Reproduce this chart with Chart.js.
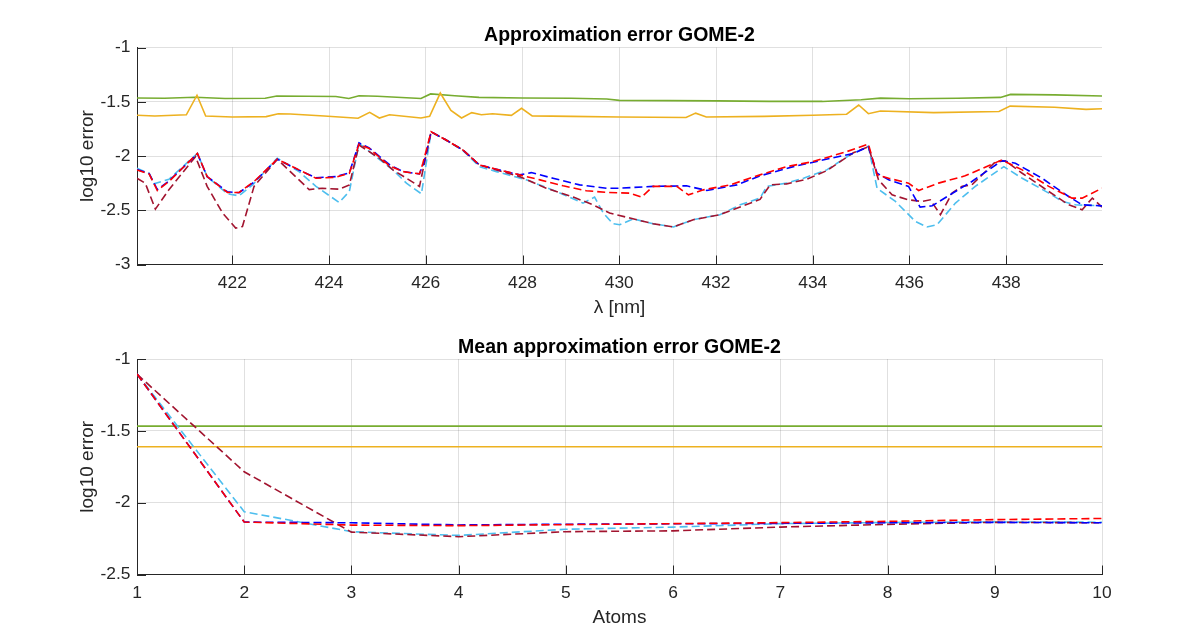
<!DOCTYPE html>
<html>
<head>
<meta charset="utf-8">
<script src="https://cdn.jsdelivr.net/npm/chart.js@4.4.1/dist/chart.umd.min.js"></script>
<style>
  html, body { margin: 0; padding: 0; background: #fff; }
  .panel { position: absolute; left: 0; width: 1196px; height: 318px; }
</style>
</head>
<body>
<div class="panel" style="top:0"><canvas id="topChart"></canvas></div>
<div class="panel" style="top:318px"><canvas id="bottomChart"></canvas></div>
<script>
// ---- top panel: error vs wavelength ----
const lambdaTicks = [422, 424, 426, 428, 430, 432, 434, 436, 438];
const errTicksTop = [-1, -1.5, -2, -2.5, -3];

const wlGreen = [420.03, 420.6, 421.23, 421.85, 422.68, 422.92, 424.14, 424.41, 424.62, 425.0, 425.9, 426.1, 426.6, 427.1, 428.0, 429.0, 429.74, 430.0, 431.0, 432.0, 433.1, 434.2, 435.0, 435.4, 436.0, 437.0, 437.88, 438.09, 439.0, 439.98];
const errGreen = [-1.465, -1.468, -1.459, -1.47, -1.468, -1.447, -1.452, -1.47, -1.445, -1.45, -1.47, -1.428, -1.445, -1.46, -1.465, -1.468, -1.475, -1.487, -1.49, -1.492, -1.497, -1.497, -1.482, -1.467, -1.473, -1.468, -1.46, -1.432, -1.437, -1.447];

const wlOrange = [420.03, 420.4, 421.05, 421.27, 421.45, 422.0, 422.7, 422.95, 423.2, 423.9, 424.6, 424.84, 425.04, 425.25, 425.9, 426.08, 426.3, 426.52, 426.74, 426.95, 427.15, 427.38, 427.77, 427.98, 428.2, 429.0, 430.0, 431.38, 431.58, 431.8, 433.0, 434.0, 434.7, 434.95, 435.15, 435.4, 436.5, 437.85, 438.08, 439.0, 439.65, 439.98];
const errOrange = [-1.625, -1.632, -1.62, -1.44, -1.632, -1.64, -1.637, -1.61, -1.613, -1.632, -1.652, -1.598, -1.65, -1.62, -1.65, -1.635, -1.42, -1.58, -1.65, -1.6, -1.62, -1.61, -1.625, -1.56, -1.63, -1.635, -1.64, -1.645, -1.605, -1.64, -1.635, -1.625, -1.615, -1.53, -1.61, -1.585, -1.6, -1.59, -1.54, -1.55, -1.57, -1.565];

const wlRed = [420.03, 420.28, 420.45, 420.69, 421.28, 421.48, 421.9, 422.14, 422.45, 422.93, 423.38, 423.73, 424.14, 424.42, 424.62, 424.83, 425.25, 425.53, 425.87, 425.94, 426.11, 426.42, 426.77, 427.11, 427.46, 427.94, 428.36, 428.84, 429.32, 429.74, 430.22, 430.46, 430.7, 431.19, 431.43, 431.74, 432.29, 432.91, 433.46, 434.0, 434.7, 435.15, 435.33, 435.57, 435.98, 436.19, 436.6, 437.15, 437.78, 437.91, 438.33, 438.88, 439.36, 439.57, 439.98];
const errRed = [-2.128, -2.165, -2.318, -2.235, -1.975, -2.19, -2.336, -2.336, -2.235, -2.03, -2.128, -2.205, -2.196, -2.16, -1.89, -1.93, -2.09, -2.144, -2.165, -2.067, -1.777, -1.853, -1.945, -2.083, -2.122, -2.174, -2.22, -2.275, -2.32, -2.336, -2.342, -2.379, -2.28, -2.28, -2.358, -2.312, -2.266, -2.174, -2.098, -2.052, -1.96, -1.89, -2.174, -2.205, -2.25, -2.318, -2.25, -2.183, -2.061, -2.037, -2.128, -2.28, -2.388, -2.388, -2.297];

const wlBlue = [420.03, 420.28, 420.45, 420.69, 421.28, 421.48, 421.9, 422.14, 422.45, 422.93, 423.38, 423.73, 424.14, 424.42, 424.62, 424.83, 425.25, 425.53, 425.87, 425.97, 426.11, 426.42, 426.77, 427.11, 427.46, 427.94, 428.18, 428.63, 429.18, 429.74, 430.0, 430.7, 431.39, 431.81, 432.43, 432.91, 433.6, 434.15, 434.84, 435.15, 435.33, 435.57, 435.98, 436.22, 436.47, 436.95, 437.29, 437.91, 438.19, 438.74, 439.29, 439.57, 439.98];
const errBlue = [-2.125, -2.16, -2.31, -2.23, -1.98, -2.19, -2.33, -2.338, -2.24, -2.03, -2.13, -2.2, -2.19, -2.155, -1.88, -1.925, -2.08, -2.144, -2.165, -2.05, -1.777, -1.853, -1.945, -2.083, -2.122, -2.174, -2.153, -2.205, -2.266, -2.297, -2.297, -2.28, -2.275, -2.318, -2.266, -2.183, -2.098, -2.043, -1.976, -1.915, -2.159, -2.22, -2.28, -2.471, -2.459, -2.327, -2.235, -2.043, -2.067, -2.205, -2.373, -2.45, -2.46];

const wlCyan = [420.03, 420.28, 420.38, 420.69, 421.28, 421.48, 421.9, 422.14, 422.42, 422.93, 423.38, 423.73, 424.21, 424.42, 424.62, 425.04, 425.32, 425.6, 425.91, 426.11, 426.42, 426.77, 427.11, 427.46, 428.08, 428.7, 429.25, 429.49, 429.67, 429.87, 430.01, 430.29, 430.7, 431.12, 431.53, 432.08, 432.5, 432.91, 433.05, 433.46, 433.81, 434.29, 434.77, 435.15, 435.33, 435.71, 436.12, 436.36, 436.57, 436.95, 437.36, 437.95, 438.33, 438.88, 439.16, 439.43, 439.98];
const errCyan = [-2.113, -2.16, -2.257, -2.214, -1.975, -2.19, -2.349, -2.367, -2.266, -2.02, -2.144, -2.28, -2.428, -2.327, -1.884, -2.03, -2.128, -2.25, -2.349, -1.777, -1.853, -1.95, -2.098, -2.144, -2.22, -2.327, -2.434, -2.379, -2.526, -2.624, -2.633, -2.58, -2.624, -2.654, -2.587, -2.541, -2.45, -2.388, -2.28, -2.25, -2.205, -2.128, -1.99, -1.91, -2.297, -2.419, -2.602, -2.654, -2.633, -2.434, -2.28, -2.098, -2.205, -2.342, -2.419, -2.45, -2.459];

const wlWine = [420.03, 420.2, 420.41, 420.69, 421.24, 421.48, 421.8, 422.07, 422.21, 422.45, 422.93, 423.59, 423.86, 424.21, 424.42, 424.62, 425.04, 425.32, 425.6, 425.87, 426.11, 426.42, 426.77, 427.11, 427.94, 428.49, 429.05, 429.46, 429.8, 430.22, 430.7, 431.12, 431.53, 432.08, 432.91, 433.12, 433.46, 433.88, 434.29, 434.84, 435.15, 435.36, 435.64, 435.98, 436.26, 436.43, 436.64, 436.88, 437.09, 437.29, 437.78, 437.98, 438.33, 438.88, 439.29, 439.57, 439.78, 439.98];
const errWine = [-2.205, -2.25, -2.49, -2.31, -2.006, -2.28, -2.526, -2.664, -2.65, -2.28, -2.03, -2.31, -2.297, -2.306, -2.266, -1.9, -2.02, -2.128, -2.205, -2.28, -1.777, -1.853, -1.945, -2.083, -2.19, -2.297, -2.379, -2.45, -2.526, -2.572, -2.624, -2.654, -2.587, -2.541, -2.4, -2.266, -2.257, -2.214, -2.135, -1.97, -1.915, -2.22, -2.358, -2.404, -2.419, -2.404, -2.541, -2.342, -2.28, -2.266, -2.052, -2.045, -2.159, -2.327, -2.45, -2.495, -2.388, -2.471];

// ---- bottom panel: mean error vs number of atoms ----
const atoms = [1, 2, 3, 4, 5, 6, 7, 8, 9, 10];
const errTicksBottom = [-1, -1.5, -2, -2.5];
const meanGreen  = [-1.467, -1.467, -1.467, -1.467, -1.467, -1.467, -1.467, -1.467, -1.467, -1.467];
const meanOrange = [-1.611, -1.611, -1.611, -1.611, -1.611, -1.611, -1.611, -1.611, -1.611, -1.611];
const meanRed    = [-1.105, -2.135, -2.156, -2.16, -2.153, -2.146, -2.139, -2.13, -2.118, -2.11];
const meanBlue   = [-1.105, -2.135, -2.14, -2.155, -2.15, -2.147, -2.144, -2.14, -2.137, -2.14];
const meanCyan   = [-1.105, -2.063, -2.202, -2.228, -2.185, -2.17, -2.146, -2.138, -2.134, -2.136];
const meanWine   = [-1.105, -1.785, -2.205, -2.237, -2.202, -2.196, -2.17, -2.151, -2.137, -2.14];

const COLORS = {
  green: '#77AC30', orange: '#EDB120', blue: '#0000FF',
  red: '#FF0000', cyan: '#4DBEEE', wine: '#A2142F'
};
const AXIS = '#262626';
const GRID = 'rgba(38,38,38,0.14)';

Chart.defaults.font.family = '"Liberation Sans", Arial, Helvetica, sans-serif';
Chart.defaults.color = AXIS;

function pairs(xs, ys) {
  return xs.map((x, i) => ({ x: x, y: ys[i] }));
}

function line(label, color, data, dashed) {
  return {
    label: label,
    data: data,
    borderColor: color,
    backgroundColor: color,
    borderWidth: 1.6,
    borderDash: dashed ? [8, 4] : [],
    pointRadius: 0,
    tension: 0,
    fill: false
  };
}

// MATLAB-style ticks pointing into the plot
const innerTicks = {
  id: 'innerTicks',
  afterLayout(chart) {
    // centre the title over the plot area, not the whole canvas
    if (chart.titleBlock) {
      chart.titleBlock.left = chart.chartArea.left;
      chart.titleBlock.right = chart.chartArea.right;
    }
  },
  afterDraw(chart) {
    const { ctx, chartArea, scales } = chart;
    ctx.save();
    ctx.strokeStyle = AXIS;
    ctx.lineWidth = 1;
    ctx.beginPath();
    scales.x.ticks.forEach(t => {
      const px = Math.round(scales.x.getPixelForValue(t.value)) + 0.5;
      ctx.moveTo(px, chartArea.bottom);
      ctx.lineTo(px, chartArea.bottom - 9);
    });
    scales.y.ticks.forEach(t => {
      const py = Math.round(scales.y.getPixelForValue(t.value)) + 0.5;
      ctx.moveTo(chartArea.left, py);
      ctx.lineTo(chartArea.left + 9, py);
    });
    ctx.stroke();
    ctx.restore();
  }
};

function makeChart(id, cfg) {
  return new Chart(document.getElementById(id), {
    type: 'line',
    data: { datasets: cfg.datasets },
    options: {
      responsive: true,
      maintainAspectRatio: false,
      animation: false,
      devicePixelRatio: 1,
      layout: { padding: { left: 0, right: 94, top: 0, bottom: 0 } },
      plugins: {
        legend: { display: false },
        tooltip: { enabled: false },
        title: {
          display: true,
          text: cfg.title,
          color: '#000',
          font: { size: 19.5, weight: 'bold', lineHeight: 1 },
          padding: { top: cfg.titleTop, bottom: cfg.titleBottom }
        }
      },
      scales: {
        x: {
          type: 'linear',
          min: cfg.xMin,
          max: cfg.xMax,
          afterBuildTicks: s => { s.ticks = cfg.xTicks.map(v => ({ value: v })); },
          afterFit: s => { s.height = cfg.xHeight; },
          ticks: { font: { size: 17.4 }, padding: 8, maxRotation: 0, callback: v => String(v) },
          grid: { color: GRID, drawTicks: false },
          border: { color: AXIS, width: 1 },
          title: {
            display: true,
            text: cfg.xTitle,
            font: { size: 19, lineHeight: 1 },
            padding: { top: 0, bottom: cfg.xTitlePad }
          }
        },
        y: {
          min: cfg.yMin,
          max: -1,
          afterBuildTicks: s => { s.ticks = cfg.yTicks.map(v => ({ value: v })); },
          afterFit: s => { s.width = 137; },
          ticks: { font: { size: 17.4 }, padding: 6.5, callback: v => String(v) },
          grid: { color: GRID, drawTicks: false },
          border: { color: AXIS, width: 1 },
          title: {
            display: true,
            text: 'log10 error',
            font: { size: 19, lineHeight: 1 },
            padding: { top: 78.5, bottom: 0 }
          }
        }
      }
    },
    plugins: [innerTicks]
  });
}

makeChart('topChart', {
  title: 'Approximation error GOME-2',
  titleTop: 26.25, titleBottom: 1.75,
  xMin: 420.03, xMax: 439.98, xTicks: lambdaTicks, xHeight: 53.5,
  xTitle: '\u03bb [nm]', xTitlePad: 0.5,
  yMin: -3, yTicks: errTicksTop,
  datasets: [
    line('red', COLORS.red, pairs(wlRed, errRed), true),
    line('blue', COLORS.blue, pairs(wlBlue, errBlue), true),
    line('wine', COLORS.wine, pairs(wlWine, errWine), true),
    line('cyan', COLORS.cyan, pairs(wlCyan, errCyan), true),
    line('orange', COLORS.orange, pairs(wlOrange, errOrange), false),
    line('green', COLORS.green, pairs(wlGreen, errGreen), false)
  ]
});

makeChart('bottomChart', {
  title: 'Mean approximation error GOME-2',
  titleTop: 19.75, titleBottom: 1.75,
  xMin: 1, xMax: 10, xTicks: atoms, xHeight: 61.5,
  xTitle: 'Atoms', xTitlePad: 8.5,
  yMin: -2.5, yTicks: errTicksBottom,
  datasets: [
    line('red', COLORS.red, pairs(atoms, meanRed), true),
    line('blue', COLORS.blue, pairs(atoms, meanBlue), true),
    line('wine', COLORS.wine, pairs(atoms, meanWine), true),
    line('cyan', COLORS.cyan, pairs(atoms, meanCyan), true),
    line('orange', COLORS.orange, pairs(atoms, meanOrange), false),
    line('green', COLORS.green, pairs(atoms, meanGreen), false)
  ]
});
</script>
</body>
</html>
